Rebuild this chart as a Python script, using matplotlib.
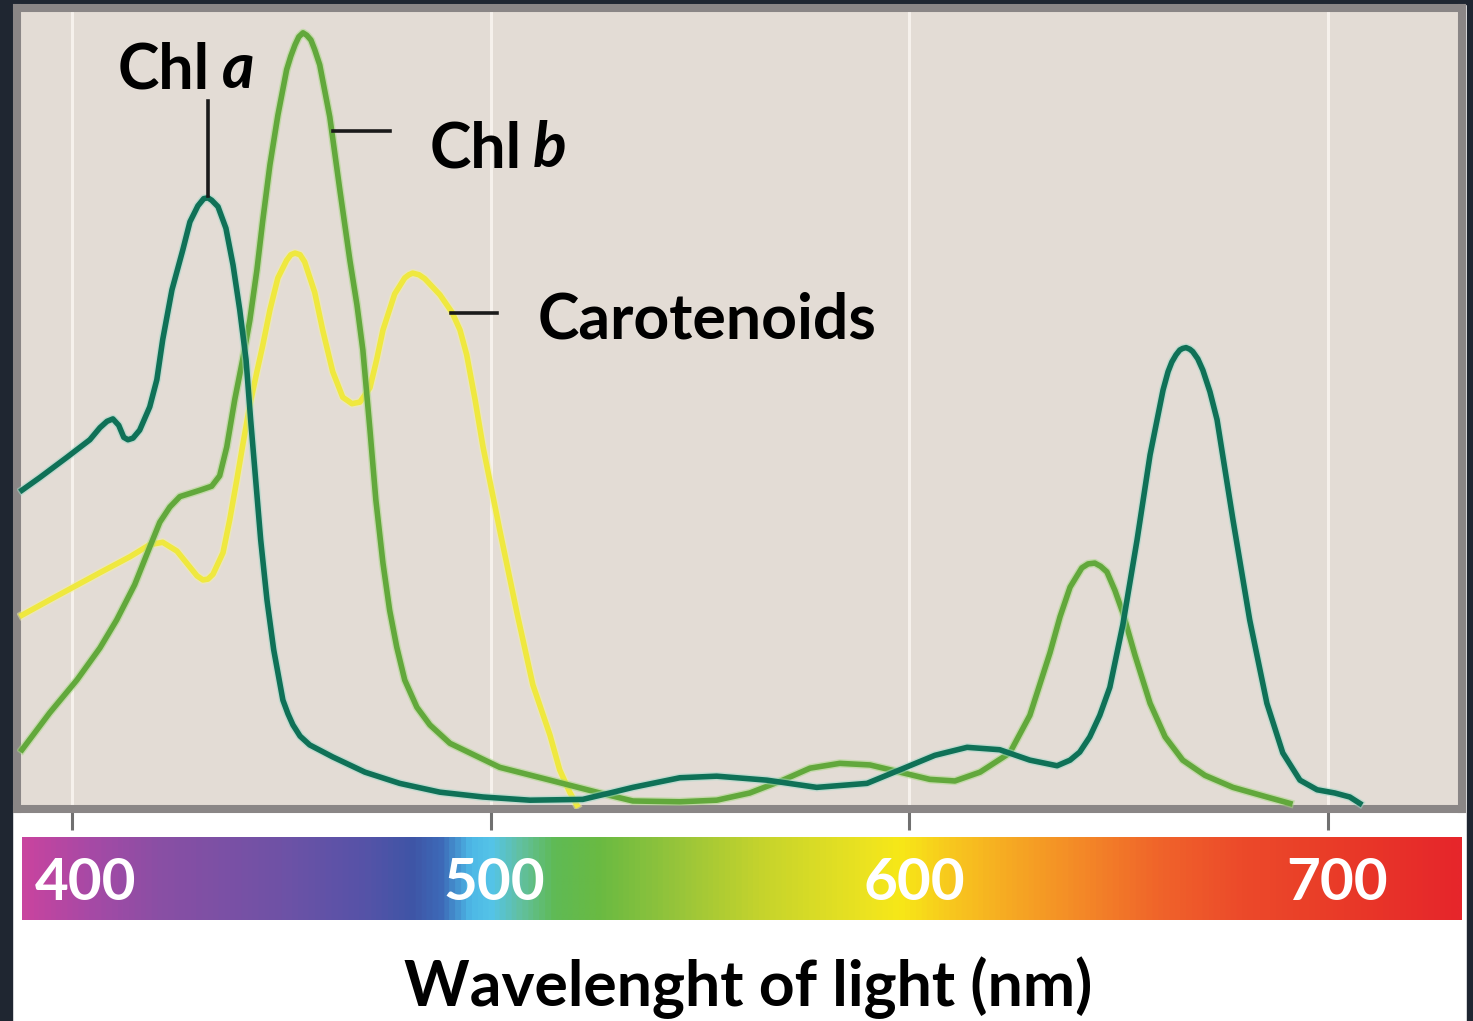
import numpy as np
import matplotlib.pyplot as plt
from matplotlib.colors import LinearSegmentedColormap
from matplotlib.patches import Rectangle
from matplotlib.lines import Line2D
import matplotlib.patheffects as pe

# absorption spectra (wavelength nm, relative absorbance)
chl_a_nm = [388.1, 392.4, 398.8, 404.3, 406.7, 408.4, 409.8, 411.2, 412.4, 413.4,
            414.6, 416.2, 418.6, 420.3, 421.7, 423.9, 426.5, 428.2, 430.1, 431.5,
            432.5, 433.4, 434.9, 436.8, 438.5, 440.1, 441.6, 442.7, 443.9, 445.1,
            446.6, 448.2, 450.4, 451.6, 452.8, 454.5, 456.8, 462.3, 470.0, 478.3,
            487.9, 498.2, 509.4, 522.0, 528.5, 534.0, 545.2, 554.0, 566.0, 577.9,
            589.9, 597.8, 606.1, 613.8, 621.6, 628.8, 635.3, 638.4, 640.7, 643.1,
            645.5, 647.9, 651.0, 654.4, 657.5, 660.6, 661.8, 662.7, 663.7, 664.6,
            665.3, 666.1, 667.0, 667.7, 668.9, 670.1, 671.8, 673.5, 677.3, 681.3,
            685.4, 689.2, 693.3, 697.4, 701.6, 705.2, 707.6]
chl_a_abs = [0.398, 0.414, 0.439, 0.461, 0.476, 0.484, 0.487, 0.479, 0.464, 0.461,
             0.463, 0.473, 0.502, 0.536, 0.586, 0.648, 0.698, 0.733, 0.753, 0.762,
             0.763, 0.760, 0.752, 0.725, 0.679, 0.623, 0.561, 0.486, 0.411, 0.336,
             0.261, 0.199, 0.136, 0.119, 0.105, 0.091, 0.080, 0.065, 0.046, 0.032,
             0.021, 0.015, 0.011, 0.012, 0.020, 0.027, 0.039, 0.041, 0.036, 0.027,
             0.032, 0.049, 0.067, 0.077, 0.074, 0.061, 0.054, 0.061, 0.071, 0.090,
             0.117, 0.152, 0.230, 0.336, 0.442, 0.523, 0.546, 0.558, 0.567, 0.573,
             0.575, 0.576, 0.574, 0.571, 0.562, 0.548, 0.521, 0.486, 0.361, 0.236,
             0.132, 0.070, 0.036, 0.024, 0.020, 0.015, 0.007]

chl_b_nm = [388.1, 394.7, 401.2, 406.7, 410.7, 415.0, 418.6, 421.0, 423.4, 425.8,
            430.6, 433.4, 435.3, 437.0, 438.9, 440.8, 442.5, 444.2, 445.6, 447.3,
            449.2, 451.3, 452.3, 453.3, 454.2, 455.2, 456.1, 457.1, 458.0, 459.2,
            461.6, 464.0, 466.4, 468.1, 469.5, 471.2, 472.6, 474.3, 475.9, 477.6,
            479.5, 482.4, 485.5, 490.3, 502.2, 514.2, 526.1, 534.0, 545.2, 554.0,
            561.9, 569.8, 576.3, 583.4, 590.6, 597.8, 604.9, 610.9, 616.9, 624.0,
            628.8, 633.6, 636.0, 638.4, 641.2, 642.7, 644.3, 645.7, 647.2, 649.1,
            651.0, 653.9, 657.5, 661.1, 665.3, 670.6, 677.3, 685.4, 690.9]
chl_b_abs = [0.074, 0.120, 0.161, 0.201, 0.236, 0.280, 0.327, 0.358, 0.377, 0.390,
             0.398, 0.403, 0.416, 0.452, 0.511, 0.561, 0.610, 0.673, 0.735, 0.804,
             0.866, 0.923, 0.940, 0.954, 0.964, 0.969, 0.966, 0.960, 0.948, 0.929,
             0.864, 0.773, 0.685, 0.629, 0.573, 0.473, 0.386, 0.307, 0.248, 0.202,
             0.161, 0.127, 0.105, 0.082, 0.052, 0.036, 0.020, 0.010, 0.009, 0.011,
             0.020, 0.036, 0.051, 0.057, 0.055, 0.046, 0.037, 0.035, 0.046, 0.070,
             0.117, 0.195, 0.240, 0.277, 0.301, 0.306, 0.307, 0.303, 0.296, 0.273,
             0.245, 0.192, 0.132, 0.090, 0.061, 0.042, 0.027, 0.015, 0.007]

car_nm = [388.1, 394.7, 406.7, 413.9, 418.6, 421.7, 425.1, 428.2, 429.9, 431.3,
          432.5, 433.7, 436.1, 437.7, 439.4, 440.8, 442.5, 444.2, 445.6, 447.3,
          449.2, 451.3, 452.3, 453.3, 454.5, 455.6, 458.0, 459.9, 462.3, 464.7,
          466.9, 468.8, 471.2, 472.8, 474.3, 477.1, 479.5, 480.5, 481.4, 482.9,
          484.3, 487.9, 490.8, 492.7, 494.3, 496.3, 498.2, 502.2, 506.3, 510.1,
          514.2, 516.5, 518.9, 520.6]
car_abs = [0.242, 0.261, 0.295, 0.315, 0.330, 0.333, 0.322, 0.302, 0.291, 0.286,
           0.287, 0.293, 0.320, 0.361, 0.411, 0.454, 0.504, 0.546, 0.579, 0.623,
           0.663, 0.685, 0.692, 0.694, 0.692, 0.683, 0.645, 0.598, 0.546, 0.514,
           0.506, 0.508, 0.526, 0.561, 0.598, 0.643, 0.663, 0.667, 0.669, 0.667,
           0.662, 0.642, 0.620, 0.598, 0.567, 0.511, 0.452, 0.348, 0.245, 0.155,
           0.092, 0.049, 0.021, 0.005]

ticks = [400, 500, 600, 700]
tick_labels = ['400', '500', '600', '700']
label_shift = [3.3, 0.8, 1.3, 2.1]   # labels sit a little right of their ticks

# visible spectrum colours
spec_nm = [388, 405, 420, 450, 470, 481, 488, 495, 500, 507, 515, 526, 545, 565,
           590, 598, 610, 625, 645, 660, 680, 705, 732]
spec_col = ['#c8449f', '#a44aa6', '#8a4fa4', '#6e52a6', '#5553a8', '#3f55a6',
            '#3d6ab8', '#4db8e6', '#55c4e8', '#62c0a0', '#5fba55', '#6aba42',
            '#98c53a', '#c6d42c', '#ece320', '#f7e817', '#f8c81e', '#f6a823',
            '#f38228', '#f0642a', '#ec4a2a', '#e93a28', '#e6262b']

W, H = 1473, 1021
FONT = 'Lato'


def fx(p):
    return p / W


def fy(p):
    return 1 - p / H


fig = plt.figure(figsize=(W / 100, H / 100), dpi=100)
fig.patch.set_facecolor('white')

# dark frame around the slide
dark = '#1f2631'
fig.add_artist(Rectangle((0, 0), fx(12), 1, transform=fig.transFigure, color=dark, zorder=0))
fig.add_artist(Rectangle((fx(1467), 0), 1 - fx(1467), 1, transform=fig.transFigure, color=dark, zorder=0))
fig.add_artist(Rectangle((0, fy(4)), 1, 1 - fy(4), transform=fig.transFigure, color=dark, zorder=0))

ax = fig.add_axes([fx(17), fy(809), fx(1462) - fx(17), fy(8) - fy(809)])
ax.set_facecolor('#e3dcd5')
ax.set_xlim(386.9, 732.0)
ax.set_ylim(0, 1)
for s in ax.spines.values():
    s.set_color('#8a8686')
    s.set_linewidth(5.8)
ax.set_yticks([])
ax.set_xticks(ticks)
ax.tick_params(axis='x', direction='out', length=15, width=2.2, color='#707070', labelbottom=False)
for t in ticks:
    ax.axvline(t, color='#f6f1ec', lw=2.2, zorder=1)

ax.plot(car_nm, car_abs, color='#efe83f', lw=4, solid_joinstyle='round', zorder=3,
        path_effects=[pe.Stroke(linewidth=6, foreground='#f4f0a0', alpha=0.5), pe.Normal()])
ax.plot(chl_b_nm, chl_b_abs, color='#62a83c', lw=4, solid_joinstyle='round', zorder=4,
        path_effects=[pe.Stroke(linewidth=6, foreground='#a6d880', alpha=0.5), pe.Normal()])
ax.plot(chl_a_nm, chl_a_abs, color='#0f7157', lw=4, solid_joinstyle='round', zorder=5,
        path_effects=[pe.Stroke(linewidth=6, foreground='#9fd8c8', alpha=0.5), pe.Normal()])

# spectrum bar with tick labels
spec_cmap = LinearSegmentedColormap.from_list(
    'spec', [((n - spec_nm[0]) / (spec_nm[-1] - spec_nm[0]), c) for n, c in zip(spec_nm, spec_col)])
bax = fig.add_axes([fx(22), fy(920), fx(1462) - fx(22), fy(837) - fy(920)])
grad = np.linspace(388.1, 732.0, 1200).reshape(1, -1)
bax.imshow(grad, aspect='auto', cmap=spec_cmap, vmin=spec_nm[0], vmax=spec_nm[-1],
           extent=[388.1, 732.0, 0, 1])
bax.set_xlim(388.1, 732.0)
bax.set_ylim(0, 1)
bax.axis('off')
for t, lab, sh in zip(ticks, tick_labels, label_shift):
    bax.text(t + sh, 0.24, lab, color='white', fontsize=42, fontweight='bold',
             family=FONT, ha='center', va='baseline')

fig.text(fx(748), fy(1006), 'Wavelenght of light (nm)', fontsize=45, fontweight='bold',
         family=FONT, ha='center', va='baseline')

# curve labels
lab_kw = dict(fontsize=45, fontweight='bold', family=FONT, va='baseline', ha='left')
fig.text(fx(118), fy(88), 'Chl', **lab_kw)
fig.text(fx(222), fy(88), 'a', style='italic', **lab_kw)
fig.text(fx(430), fy(167), 'Chl', **lab_kw)
fig.text(fx(533), fy(167), 'b', style='italic', **lab_kw)
fig.text(fx(538), fy(338), 'Carotenoids', **lab_kw)

line_kw = dict(transform=fig.transFigure, color='#1a1a1a', lw=2.6, zorder=6)
fig.add_artist(Line2D([fx(208), fx(208)], [fy(101), fy(196)], **line_kw))
fig.add_artist(Line2D([fx(333), fx(390)], [fy(131), fy(131)], **line_kw))
fig.add_artist(Line2D([fx(451), fx(497)], [fy(313), fy(313)], **line_kw))

plt.savefig('out.png', dpi=100)
